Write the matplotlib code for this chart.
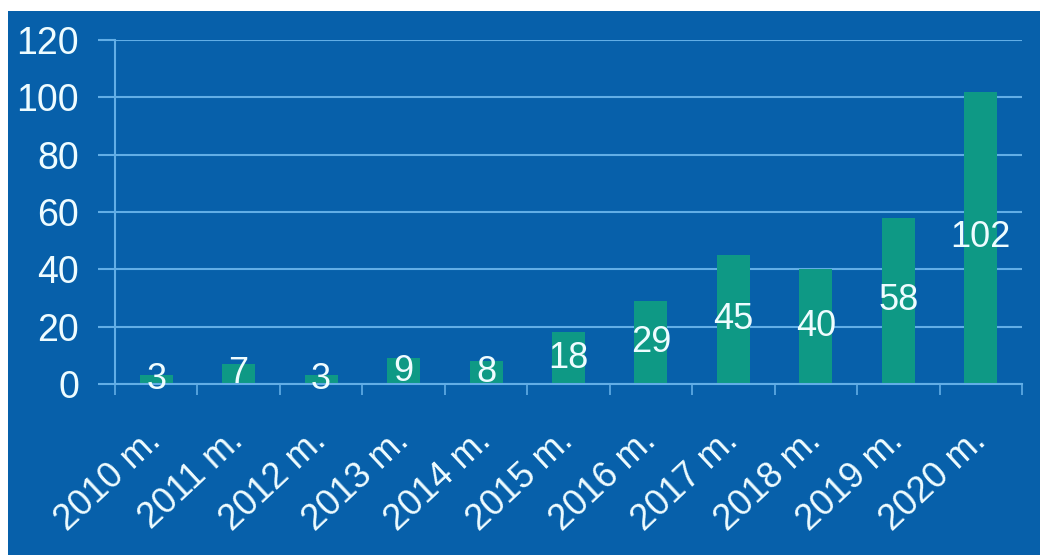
import matplotlib.pyplot as plt
from matplotlib.patches import Rectangle
from matplotlib.transforms import ScaledTranslation

years = ['2010 m.', '2011 m.', '2012 m.', '2013 m.', '2014 m.', '2015 m.',
         '2016 m.', '2017 m.', '2018 m.', '2019 m.', '2020 m.']
values = [3, 7, 3, 9, 8, 18, 29, 45, 40, 58, 102]

bg = '#0760aa'
bar_color = '#0e9985'
grid_color = '#62aee6'
text_color = '#eefcff'

plt.rcParams['font.family'] = ['Liberation Sans', 'DejaVu Sans']

fig = plt.figure(figsize=(10.4, 5.55), dpi=100)
fig.patch.set_facecolor('white')
fig.patches.append(Rectangle((8 / 1040, 0), 1 - 8 / 1040, 1 - 11 / 555,
                             transform=fig.transFigure, facecolor=bg,
                             edgecolor='none', zorder=-10))

ax = fig.add_axes([115 / 1040, 1 - 384 / 555, (1022 - 115) / 1040, (384 - 40) / 555])
ax.set_facecolor('none')

x = range(len(years))
bars = ax.bar(x, values, width=0.4, color=bar_color, zorder=2)
for rect, v in zip(bars, values):
    ax.text(rect.get_x() + rect.get_width() / 2, v / 2, str(v),
            ha='center', va='center', color=text_color, fontsize=26, zorder=3)

ax.set_xlim(-0.5, len(years) - 0.5)
ax.set_ylim(0, 120)
ax.set_yticks(range(0, 121, 20))
ax.yaxis.grid(True, color=grid_color, linewidth=1.5, zorder=1)
ax.set_axisbelow(True)

ax.set_xticks([i - 0.5 for i in range(len(years) + 1)])
ax.set_xticklabels([])
ax.set_xticks(list(x), minor=True)
ax.set_xticklabels(years, minor=True, rotation=43, ha='right',
                   rotation_mode='anchor', fontsize=26, color=text_color)
ax.tick_params(axis='x', which='major', length=8, width=1.2, color=grid_color, direction='out')
ax.tick_params(axis='x', which='minor', length=0, pad=28)
ax.tick_params(axis='y', length=12, width=1.5, color=grid_color, pad=14,
               labelsize=27, labelcolor=text_color)

# nudge the rotated labels a little to the left, as in the original
shift = ScaledTranslation(-12 / 100, 0, fig.dpi_scale_trans)
for lbl in ax.get_xticklabels(minor=True):
    lbl.set_transform(lbl.get_transform() + shift)

for side in ['top', 'right']:
    ax.spines[side].set_visible(False)
ax.spines['left'].set_color(grid_color)
ax.spines['left'].set_linewidth(1.5)
ax.spines['bottom'].set_color(grid_color)
ax.spines['bottom'].set_linewidth(1.5)

fig.savefig('out.png', dpi=100)
